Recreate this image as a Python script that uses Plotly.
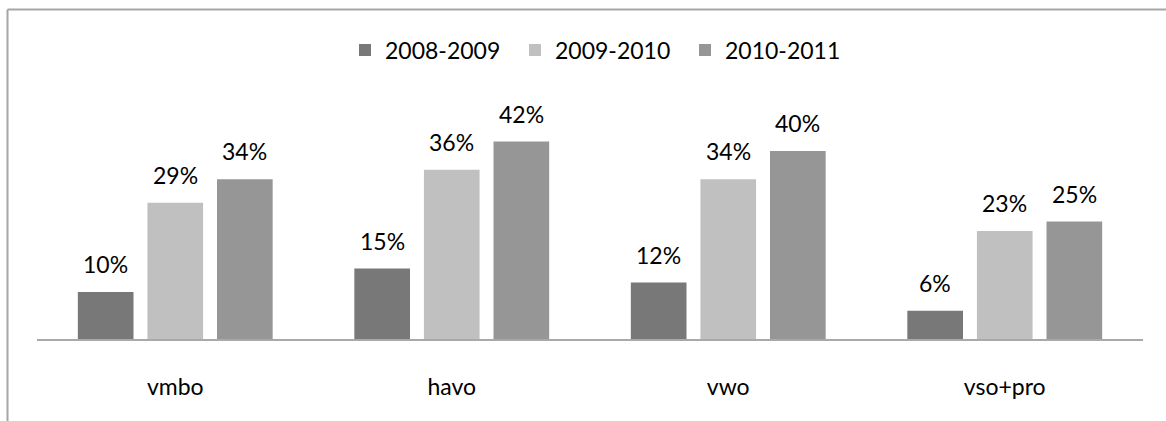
import plotly.graph_objects as go

categories = ["vmbo", "havo", "vwo", "vso+pro"]
series_names = ["2008-2009", "2009-2010", "2010-2011"]
values_2008_2009 = [10, 15, 12, 6]
values_2009_2010 = [29, 36, 34, 23]
values_2010_2011 = [34, 42, 40, 25]
colors = ["#787878", "#c0c0c0", "#969696"]

series_values = [values_2008_2009, values_2009_2010, values_2010_2011]

W, H = 1166, 421
ML, MR, MT, MB = 37, 23, 104, 82
PW = W - ML - MR
PH = H - MT - MB
BARGAP = 0.245
BARGROUPGAP = 0.2
FONT = "Lato"
FS = 23

fig = go.Figure()
for name, vals, col in zip(series_names, series_values, colors):
    fig.add_trace(go.Bar(
        x=categories, y=vals, name=name,
        marker=dict(color=col, line=dict(width=0)),
    ))

# data labels as annotations above each bar
slot_px = PW / len(categories) * (1 - BARGAP) / len(series_names)
for i, vals in enumerate(series_values):
    shift = (i - (len(series_names) - 1) / 2) * slot_px
    for c, v in zip(categories, vals):
        fig.add_annotation(
            x=c, y=v, xref="x", yref="y", text=f"{v}%", showarrow=False,
            xshift=shift, yshift=12, yanchor="bottom",
            font=dict(family=FONT, size=FS, color="#000000"),
        )

def px_x(p):
    return (p - ML) / PW

def px_y(p):
    return (H - MB - p) / PH

border = dict(color="#a6a6a6", width=2)
fig.add_shape(type="line", xref="paper", yref="paper",
              x0=px_x(7.5), x1=px_x(1180), y0=px_y(9.5), y1=px_y(9.5), line=border)
fig.add_shape(type="line", xref="paper", yref="paper",
              x0=px_x(7.5), x1=px_x(7.5), y0=px_y(9.5), y1=px_y(440), line=border)

fig.update_layout(
    width=W, height=H,
    margin=dict(l=ML, r=MR, t=MT, b=MB, pad=0),
    paper_bgcolor="white", plot_bgcolor="white",
    barmode="group", bargap=BARGAP, bargroupgap=BARGROUPGAP,
    font=dict(family=FONT, size=FS, color="#000000"),
    showlegend=True,
    legend=dict(
        orientation="h", x=px_x(345), xanchor="left",
        y=px_y(50), yanchor="middle",
        font=dict(family=FONT, size=FS, color="#000000"),
        bgcolor="rgba(0,0,0,0)", entrywidth=125, entrywidthmode="pixels",
        traceorder="normal",
    ),
    xaxis=dict(
        showline=True, linecolor="#a9a9a9", linewidth=2,
        ticks="", showgrid=False, zeroline=False,
        tickfont=dict(family=FONT, size=FS, color="#000000"),
        ticklabelstandoff=26,
    ),
    yaxis=dict(
        range=[0, 50], showticklabels=False, showgrid=False,
        zeroline=False, showline=False, ticks="",
    ),
)

fig.write_html(
    "out.html",
    config={"displayModeBar": False},
    post_script="document.body.style.margin='0px';document.body.style.overflow='hidden';",
)
